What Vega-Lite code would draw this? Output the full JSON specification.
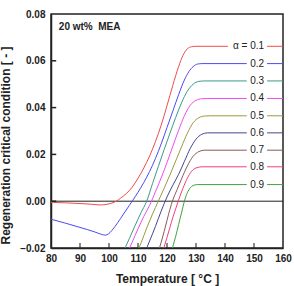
{
  "$schema": "https://vega.github.io/schema/vega-lite/v6.json",
  "width": 232,
  "height": 234,
  "autosize": "none",
  "padding": {"left": 51, "top": 14, "right": 11, "bottom": 38},
  "config": {
    "font": "Liberation Sans",
    "view": {"stroke": "#222", "strokeWidth": 1.5},
    "axis": {
      "grid": false,
      "labelFont": "Liberation Sans",
      "labelFontSize": 10,
      "labelFontWeight": "bold",
      "labelColor": "#222",
      "labelFlush": false,
      "labelOverlap": false,
      "titleFont": "Liberation Sans",
      "titleFontSize": 12,
      "titleFontWeight": "bold",
      "titleColor": "#222",
      "domainColor": "#222",
      "domainWidth": 1.5,
      "ticks": false
    }
  },
  "datasets": {
    "curves": [
      {"a":"0.1","s":1,"T":80,"v":-0.0005},{"a":"0.1","s":1,"T":85,"v":-0.0007},{"a":"0.1","s":1,"T":90,"v":-0.001},{"a":"0.1","s":1,"T":94,"v":-0.0013},{"a":"0.1","s":1,"T":97,"v":-0.0016},{"a":"0.1","s":1,"T":99,"v":-0.0014},{"a":"0.1","s":1,"T":101,"v":-0.0008},{"a":"0.1","s":1,"T":102.5,"v":0.0},{"a":"0.1","s":1,"T":104,"v":0.0013},{"a":"0.1","s":1,"T":106,"v":0.0033},{"a":"0.1","s":1,"T":108,"v":0.006},{"a":"0.1","s":1,"T":110,"v":0.0098},{"a":"0.1","s":1,"T":112,"v":0.0142},{"a":"0.1","s":1,"T":114,"v":0.0193},{"a":"0.1","s":1,"T":116,"v":0.0254},{"a":"0.1","s":1,"T":118,"v":0.0325},{"a":"0.1","s":1,"T":120,"v":0.0408},{"a":"0.1","s":1,"T":122,"v":0.0495},{"a":"0.1","s":1,"T":124,"v":0.0575},{"a":"0.1","s":1,"T":125.5,"v":0.0623},{"a":"0.1","s":1,"T":127,"v":0.0651},{"a":"0.1","s":1,"T":128.5,"v":0.066},{"a":"0.1","s":1,"T":130,"v":0.0662},{"a":"0.1","s":1,"T":141,"v":0.0662},{"a":"0.1","s":2,"T":154.5,"v":0.0662},{"a":"0.1","s":2,"T":160,"v":0.0662},
      {"a":"0.2","s":1,"T":80,"v":-0.0077},{"a":"0.2","s":1,"T":85,"v":-0.0094},{"a":"0.2","s":1,"T":90,"v":-0.0112},{"a":"0.2","s":1,"T":95,"v":-0.0131},{"a":"0.2","s":1,"T":97.5,"v":-0.0142},{"a":"0.2","s":1,"T":98.7,"v":-0.0145},{"a":"0.2","s":1,"T":99.8,"v":-0.014},{"a":"0.2","s":1,"T":101,"v":-0.0125},{"a":"0.2","s":1,"T":103,"v":-0.0092},{"a":"0.2","s":1,"T":105,"v":-0.0055},{"a":"0.2","s":1,"T":107,"v":-0.0018},{"a":"0.2","s":1,"T":108,"v":0.0},{"a":"0.2","s":1,"T":110,"v":0.0038},{"a":"0.2","s":1,"T":112,"v":0.008},{"a":"0.2","s":1,"T":114,"v":0.0127},{"a":"0.2","s":1,"T":116,"v":0.0182},{"a":"0.2","s":1,"T":118,"v":0.0245},{"a":"0.2","s":1,"T":120,"v":0.0315},{"a":"0.2","s":1,"T":122,"v":0.0385},{"a":"0.2","s":1,"T":124,"v":0.0455},{"a":"0.2","s":1,"T":126,"v":0.0518},{"a":"0.2","s":1,"T":127.5,"v":0.0553},{"a":"0.2","s":1,"T":129,"v":0.0575},{"a":"0.2","s":1,"T":130.5,"v":0.0586},{"a":"0.2","s":1,"T":132,"v":0.0588},{"a":"0.2","s":1,"T":147.5,"v":0.0588},{"a":"0.2","s":2,"T":154.5,"v":0.0588},{"a":"0.2","s":2,"T":160,"v":0.0588},
      {"a":"0.3","s":1,"T":105,"v":-0.0215},{"a":"0.3","s":1,"T":107,"v":-0.016},{"a":"0.3","s":1,"T":109,"v":-0.0104},{"a":"0.3","s":1,"T":111,"v":-0.005},{"a":"0.3","s":1,"T":113,"v":0.0},{"a":"0.3","s":1,"T":115,"v":0.0075},{"a":"0.3","s":1,"T":117,"v":0.0148},{"a":"0.3","s":1,"T":119,"v":0.022},{"a":"0.3","s":1,"T":121,"v":0.029},{"a":"0.3","s":1,"T":123,"v":0.0358},{"a":"0.3","s":1,"T":125,"v":0.042},{"a":"0.3","s":1,"T":127,"v":0.047},{"a":"0.3","s":1,"T":129,"v":0.05},{"a":"0.3","s":1,"T":131,"v":0.0512},{"a":"0.3","s":1,"T":133,"v":0.0514},{"a":"0.3","s":1,"T":147.5,"v":0.0514},{"a":"0.3","s":2,"T":154.5,"v":0.0514},{"a":"0.3","s":2,"T":160,"v":0.0514},
      {"a":"0.4","s":1,"T":106.5,"v":-0.0215},{"a":"0.4","s":1,"T":108,"v":-0.0175},{"a":"0.4","s":1,"T":110,"v":-0.0118},{"a":"0.4","s":1,"T":112,"v":-0.0065},{"a":"0.4","s":1,"T":114,"v":-0.0018},{"a":"0.4","s":1,"T":116,"v":0.004},{"a":"0.4","s":1,"T":118,"v":0.01},{"a":"0.4","s":1,"T":120,"v":0.0165},{"a":"0.4","s":1,"T":122,"v":0.0235},{"a":"0.4","s":1,"T":124,"v":0.0303},{"a":"0.4","s":1,"T":126,"v":0.0365},{"a":"0.4","s":1,"T":128,"v":0.041},{"a":"0.4","s":1,"T":130,"v":0.0431},{"a":"0.4","s":1,"T":132,"v":0.0438},{"a":"0.4","s":1,"T":134,"v":0.0439},{"a":"0.4","s":1,"T":147.5,"v":0.0439},{"a":"0.4","s":2,"T":154.5,"v":0.0439},{"a":"0.4","s":2,"T":160,"v":0.0439},
      {"a":"0.5","s":1,"T":109.8,"v":-0.0215},{"a":"0.5","s":1,"T":111,"v":-0.018},{"a":"0.5","s":1,"T":113,"v":-0.0115},{"a":"0.5","s":1,"T":115,"v":-0.0055},{"a":"0.5","s":1,"T":117,"v":0.0},{"a":"0.5","s":1,"T":119,"v":0.0055},{"a":"0.5","s":1,"T":121,"v":0.0112},{"a":"0.5","s":1,"T":123,"v":0.0172},{"a":"0.5","s":1,"T":125,"v":0.0232},{"a":"0.5","s":1,"T":127,"v":0.029},{"a":"0.5","s":1,"T":129,"v":0.0335},{"a":"0.5","s":1,"T":131,"v":0.0357},{"a":"0.5","s":1,"T":133,"v":0.0364},{"a":"0.5","s":1,"T":135,"v":0.0365},{"a":"0.5","s":1,"T":147.5,"v":0.0365},{"a":"0.5","s":2,"T":154.5,"v":0.0365},{"a":"0.5","s":2,"T":160,"v":0.0365},
      {"a":"0.6","s":1,"T":112.5,"v":-0.0215},{"a":"0.6","s":1,"T":114,"v":-0.017},{"a":"0.6","s":1,"T":116,"v":-0.0108},{"a":"0.6","s":1,"T":118,"v":-0.0042},{"a":"0.6","s":1,"T":120,"v":0.0018},{"a":"0.6","s":1,"T":122,"v":0.0068},{"a":"0.6","s":1,"T":124,"v":0.0115},{"a":"0.6","s":1,"T":126,"v":0.017},{"a":"0.6","s":1,"T":128,"v":0.0225},{"a":"0.6","s":1,"T":130,"v":0.0265},{"a":"0.6","s":1,"T":132,"v":0.0286},{"a":"0.6","s":1,"T":134,"v":0.0292},{"a":"0.6","s":1,"T":147.5,"v":0.0292},{"a":"0.6","s":2,"T":154.5,"v":0.0292},{"a":"0.6","s":2,"T":160,"v":0.0292},
      {"a":"0.7","s":1,"T":117,"v":-0.0215},{"a":"0.7","s":1,"T":118,"v":-0.0175},{"a":"0.7","s":1,"T":119,"v":-0.013},{"a":"0.7","s":1,"T":120,"v":-0.0082},{"a":"0.7","s":1,"T":121,"v":-0.0035},{"a":"0.7","s":1,"T":122,"v":0.0005},{"a":"0.7","s":1,"T":123.5,"v":0.005},{"a":"0.7","s":1,"T":125,"v":0.0095},{"a":"0.7","s":1,"T":127,"v":0.015},{"a":"0.7","s":1,"T":129,"v":0.0192},{"a":"0.7","s":1,"T":131,"v":0.0212},{"a":"0.7","s":1,"T":133,"v":0.0218},{"a":"0.7","s":1,"T":147.5,"v":0.0218},{"a":"0.7","s":2,"T":154.5,"v":0.0218},{"a":"0.7","s":2,"T":160,"v":0.0218},
      {"a":"0.8","s":1,"T":118.5,"v":-0.0215},{"a":"0.8","s":1,"T":120,"v":-0.0155},{"a":"0.8","s":1,"T":121,"v":-0.0112},{"a":"0.8","s":1,"T":122,"v":-0.007},{"a":"0.8","s":1,"T":123,"v":-0.0032},{"a":"0.8","s":1,"T":124,"v":0.0005},{"a":"0.8","s":1,"T":125.5,"v":0.0055},{"a":"0.8","s":1,"T":127,"v":0.0098},{"a":"0.8","s":1,"T":128.5,"v":0.0128},{"a":"0.8","s":1,"T":130,"v":0.0142},{"a":"0.8","s":1,"T":132,"v":0.0147},{"a":"0.8","s":1,"T":147.5,"v":0.0147},{"a":"0.8","s":2,"T":154.5,"v":0.0147},{"a":"0.8","s":2,"T":160,"v":0.0147},
      {"a":"0.9","s":1,"T":121.5,"v":-0.0215},{"a":"0.9","s":1,"T":123,"v":-0.015},{"a":"0.9","s":1,"T":124,"v":-0.01},{"a":"0.9","s":1,"T":125,"v":-0.005},{"a":"0.9","s":1,"T":126,"v":0.0},{"a":"0.9","s":1,"T":127,"v":0.0036},{"a":"0.9","s":1,"T":128,"v":0.0057},{"a":"0.9","s":1,"T":129,"v":0.0067},{"a":"0.9","s":1,"T":130.5,"v":0.0071},{"a":"0.9","s":1,"T":147.5,"v":0.0071},{"a":"0.9","s":2,"T":154.5,"v":0.0071},{"a":"0.9","s":2,"T":160,"v":0.0071}
    ],
    "labels": [
      {"a":"0.1","t":"α = 0.1","v":0.0662},
      {"a":"0.2","t":"0.2","v":0.0588},
      {"a":"0.3","t":"0.3","v":0.0514},
      {"a":"0.4","t":"0.4","v":0.0439},
      {"a":"0.5","t":"0.5","v":0.0365},
      {"a":"0.6","t":"0.6","v":0.0292},
      {"a":"0.7","t":"0.7","v":0.0218},
      {"a":"0.8","t":"0.8","v":0.0147},
      {"a":"0.9","t":"0.9","v":0.0071}
    ]
  },
  "layer": [
    {
      "data": {"values": [{"z": 0}]},
      "mark": {"type": "rule", "color": "#222", "strokeWidth": 1},
      "encoding": {"y": {"field": "z", "type": "quantitative", "scale": {"domain": [-0.02, 0.08], "nice": false, "zero": false}, "title": "Regeneration critical condition [ - ]", "axis": {"values": [-0.02, 0, 0.02, 0.04, 0.06, 0.08], "format": ".2f", "labelPadding": 6, "titlePadding": 7, "titleY": 131}}}
    },
    {
      "data": {"values": [{"p": 90}, {"p": 100}, {"p": 110}, {"p": 120}, {"p": 130}, {"p": 140}, {"p": 150}]},
      "mark": {"type": "tick", "orient": "vertical", "color": "#222", "size": 10, "thickness": 1.5, "clip": true},
      "encoding": {
        "x": {"field": "p", "type": "quantitative", "scale": {"domain": [80, 160], "nice": false, "zero": false}, "title": "Temperature [ °C ]", "axis": {"values": [80, 90, 100, 110, 120, 130, 140, 150, 160], "format": "d", "labelPadding": 5, "titlePadding": 10}},
        "y": {"datum": -0.02, "type": "quantitative", "scale": {"domain": [-0.02, 0.08], "nice": false, "zero": false}, "title": "Regeneration critical condition [ - ]", "axis": {"values": [-0.02, 0, 0.02, 0.04, 0.06, 0.08], "format": ".2f", "labelPadding": 6, "titlePadding": 7, "titleY": 131}}
      }
    },
    {
      "data": {"values": [{"q": 0}, {"q": 0.02}, {"q": 0.04}, {"q": 0.06}]},
      "mark": {"type": "rule", "color": "#222", "strokeWidth": 1.5},
      "encoding": {
        "y": {"field": "q", "type": "quantitative", "scale": {"domain": [-0.02, 0.08], "nice": false, "zero": false}, "title": "Regeneration critical condition [ - ]", "axis": {"values": [-0.02, 0, 0.02, 0.04, 0.06, 0.08], "format": ".2f", "labelPadding": 6, "titlePadding": 7, "titleY": 131}},
        "x": {"datum": 80, "type": "quantitative", "scale": {"domain": [80, 160], "nice": false, "zero": false}, "title": "Temperature [ °C ]", "axis": {"values": [80, 90, 100, 110, 120, 130, 140, 150, 160], "format": "d", "labelPadding": 5, "titlePadding": 10}},
        "x2": {"datum": 81.8}
      }
    },
    {
      "data": {"name": "curves"},
      "mark": {"type": "line", "clip": true, "strokeWidth": 1, "interpolate": "monotone"},
      "encoding": {
        "x": {
          "field": "T", "type": "quantitative",
          "scale": {"domain": [80, 160], "nice": false, "zero": false},
          "axis": {"values": [80, 90, 100, 110, 120, 130, 140, 150, 160], "format": "d", "labelPadding": 5, "titlePadding": 10},
          "title": "Temperature [ °C ]"
        },
        "y": {
          "field": "v", "type": "quantitative",
          "scale": {"domain": [-0.02, 0.08], "nice": false, "zero": false},
          "axis": {"values": [-0.02, 0, 0.02, 0.04, 0.06, 0.08], "format": ".2f", "labelPadding": 6, "titlePadding": 7, "titleY": 131},
          "title": "Regeneration critical condition [ - ]"
        },
        "color": {
          "field": "a", "type": "nominal", "legend": null,
          "scale": {
            "domain": ["0.1","0.2","0.3","0.4","0.5","0.6","0.7","0.8","0.9"],
            "range": ["#ee4c4c","#4b4bee","#3a9a8a","#f04cf0","#9a9a40","#45458f","#8a5a5a","#f0407a","#40a040"]
          }
        },
        "detail": {"field": "s", "type": "nominal"}
      }
    },
    {
      "data": {"name": "labels"},
      "mark": {"type": "text", "align": "right", "baseline": "middle", "fontSize": 10, "color": "#222", "font": "Liberation Sans"},
      "encoding": {
        "x": {"datum": 153.5, "type": "quantitative", "scale": {"domain": [80, 160], "nice": false, "zero": false}, "title": "Temperature [ °C ]", "axis": {"values": [80, 90, 100, 110, 120, 130, 140, 150, 160], "format": "d", "labelPadding": 5, "titlePadding": 10}},
        "y": {"field": "v", "type": "quantitative", "scale": {"domain": [-0.02, 0.08], "nice": false, "zero": false}, "title": "Regeneration critical condition [ - ]", "axis": {"values": [-0.02, 0, 0.02, 0.04, 0.06, 0.08], "format": ".2f", "labelPadding": 6, "titlePadding": 7, "titleY": 131}},
        "text": {"field": "t"}
      }
    },
    {
      "data": {"values": [{"t": "20 wt%\u00a0 MEA"}]},
      "mark": {"type": "text", "align": "left", "baseline": "middle", "fontSize": 10, "fontWeight": "bold", "color": "#222", "font": "Liberation Sans"},
      "encoding": {
        "x": {"datum": 82.7, "type": "quantitative", "scale": {"domain": [80, 160], "nice": false, "zero": false}, "title": "Temperature [ °C ]", "axis": {"values": [80, 90, 100, 110, 120, 130, 140, 150, 160], "format": "d", "labelPadding": 5, "titlePadding": 10}},
        "y": {"datum": 0.0745, "type": "quantitative", "scale": {"domain": [-0.02, 0.08], "nice": false, "zero": false}, "title": "Regeneration critical condition [ - ]", "axis": {"values": [-0.02, 0, 0.02, 0.04, 0.06, 0.08], "format": ".2f", "labelPadding": 6, "titlePadding": 7, "titleY": 131}},
        "text": {"field": "t"}
      }
    }
  ]
}
